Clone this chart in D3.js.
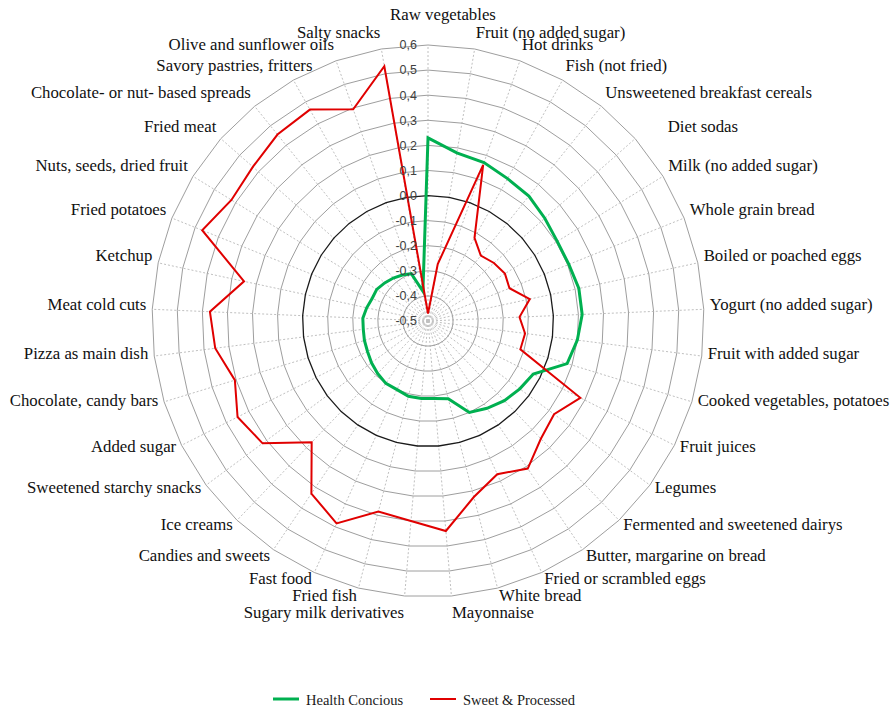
<!DOCTYPE html>
<html>
<head>
<meta charset="utf-8">
<script src="https://cdn.jsdelivr.net/npm/d3@7"></script>
<style>
  body { margin: 0; background: #fff; }
</style>
</head>
<body>
<div id="radar"></div>
<script>
// Categories, clockwise from the top
const categories = [
    'Raw vegetables', 'Fruit (no added sugar)', 'Hot drinks', 'Fish (not fried)',
    'Unsweetened breakfast cereals', 'Diet sodas', 'Milk (no added sugar)', 'Whole grain bread',
    'Boiled or poached eggs', 'Yogurt (no added sugar)', 'Fruit with added sugar',
    'Cooked vegetables, potatoes', 'Fruit juices', 'Legumes', 'Fermented and sweetened dairys',
    'Butter, margarine on bread', 'Fried or scrambled eggs', 'White bread', 'Mayonnaise',
    'Sugary milk derivatives', 'Fried fish', 'Fast food', 'Candies and sweets', 'Ice creams',
    'Sweetened starchy snacks', 'Added sugar', 'Chocolate, candy bars', 'Pizza as main dish',
    'Meat cold cuts', 'Ketchup', 'Fried potatoes', 'Nuts, seeds, dried fruit', 'Fried meat',
    'Chocolate- or nut- based spreads', 'Savory pastries, fritters', 'Olive and sunflower oils',
    'Salty snacks'
];

const healthConcious = [
    0.23, 0.18, 0.17, 0.15, 0.14, 0.12, 0.105, 0.105, 0.115, 0.115,
    0.10, 0.08, -0.03, -0.045, -0.06, -0.08, -0.10, -0.18, -0.19, -0.19,
    -0.19, -0.20, -0.20, -0.21, -0.22, -0.23, -0.235, -0.24, -0.24, -0.25,
    -0.26, -0.26, -0.27, -0.28, -0.29, -0.30, -0.38
];

const sweetProcessed = [
    -0.47, -0.27, 0.16, -0.12, -0.165, -0.15, -0.14, -0.15, -0.085, -0.135,
    -0.11, -0.115, 0.18, 0.125, 0.15, 0.21, 0.17, 0.225, 0.34, 0.30,
    0.285, 0.385, 0.33, 0.17, 0.32, 0.35, 0.305, 0.355, 0.37, 0.25,
    0.47, 0.42, 0.43, 0.455, 0.465, 0.395, 0.53
];

const ticks = [-0.5, -0.4, -0.3, -0.2, -0.1, 0, 0.1, 0.2, 0.3, 0.4, 0.5, 0.6];

const series = [
    { name: 'Health Concious', values: healthConcious, color: '#00b050', width: 3 },
    { name: 'Sweet & Processed', values: sweetProcessed, color: '#e00000', width: 2 }
];

function drawRadar() {
    const width = 890;
    const height = 708;
    const cx = 428, cy = 321;
    const n = categories.length;

    const svg = d3.select("#radar")
        .append("svg")
        .attr("width", width)
        .attr("height", height);

    const g = svg.append("g")
        .attr("transform", `translate(${cx},${cy})`);

    const r = d3.scaleLinear().domain([-0.5, 0.6]).range([0, 276]);
    const angle = d3.scaleLinear().domain([0, n]).range([0, 2 * Math.PI]);

    const ring = d3.lineRadial()
        .angle((d, i) => angle(i))
        .radius(d => r(d))
        .curve(d3.curveLinearClosed);

    // spokes
    g.selectAll(".spoke")
        .data(categories)
        .enter().append("line")
        .attr("class", "spoke")
        .attr("x1", 0).attr("y1", 0)
        .attr("x2", (d, i) => r(0.6) * Math.sin(angle(i)))
        .attr("y2", (d, i) => -r(0.6) * Math.cos(angle(i)))
        .attr("stroke", "#c0c0c0")
        .attr("stroke-width", 1)
        .attr("stroke-dasharray", "2,2");

    // rings
    g.selectAll(".ring")
        .data(ticks.filter(t => t > -0.5))
        .enter().append("path")
        .attr("class", "ring")
        .attr("d", t => ring(categories.map(() => t)))
        .attr("fill", "none")
        .attr("stroke", t => Math.abs(t) < 1e-9 ? "#1a1a1a" : "#9e9e9e")
        .attr("stroke-width", t => Math.abs(t) < 1e-9 ? 1.3 : 1);

    // series
    const line = d3.lineRadial()
        .angle((d, i) => angle(i))
        .radius(d => r(d))
        .curve(d3.curveLinearClosed);

    g.selectAll(".series")
        .data(series)
        .enter().append("path")
        .attr("class", "series")
        .attr("d", d => line(d.values))
        .attr("fill", "none")
        .attr("stroke", d => d.color)
        .attr("stroke-width", d => d.width)
        .attr("stroke-linejoin", "miter");

    // tick labels
    const fmt = v => (v < -1e-9 ? "-" : "") + Math.abs(v).toFixed(1).replace(".", ",");
    g.selectAll(".tick")
        .data(ticks)
        .enter().append("text")
        .attr("class", "tick")
        .attr("x", -11)
        .attr("y", t => -r(t))
        .attr("dy", "0.35em")
        .attr("text-anchor", "end")
        .attr("font-family", "Liberation Sans, Arial, sans-serif")
        .attr("font-size", 12.5)
        .attr("fill", "#404040")
        .text(fmt);

    // category labels
    const nudge = { 0: [15, -14], 5: [28, 0], 34: [22, 0], 18: [0, 9], 19: [0, 9] };
    g.selectAll(".cat")
        .data(categories)
        .enter().append("text")
        .attr("class", "cat")
        .attr("x", (d, i) => 282 * Math.sin(angle(i)) + (nudge[i] ? nudge[i][0] : 0))
        .attr("y", (d, i) => 1 - 288 * Math.cos(angle(i)) + (nudge[i] ? nudge[i][1] : 0))
        .attr("text-anchor", (d, i) => i === 0 ? "middle" : (i < n / 2 ? "start" : "end"))
        .attr("font-family", "Liberation Serif, Times New Roman, serif")
        .attr("font-size", 16.8)
        .attr("fill", "#111")
        .text(d => d);

    // legend
    const legendX = [273, 430];
    const legend = svg.selectAll(".legend")
        .data(series)
        .enter().append("g")
        .attr("class", "legend")
        .attr("transform", (d, i) => `translate(${legendX[i]},699)`);

    legend.append("line")
        .attr("x1", 0).attr("x2", 26)
        .attr("y1", 0).attr("y2", 0)
        .attr("stroke", d => d.color)
        .attr("stroke-width", d => d.width);

    legend.append("text")
        .attr("x", 33)
        .attr("y", 6)
        .attr("font-family", "Liberation Serif, Times New Roman, serif")
        .attr("font-size", 14.5)
        .attr("fill", "#1a1a1a")
        .text(d => d.name);
}

drawRadar();
</script>
</body>
</html>
